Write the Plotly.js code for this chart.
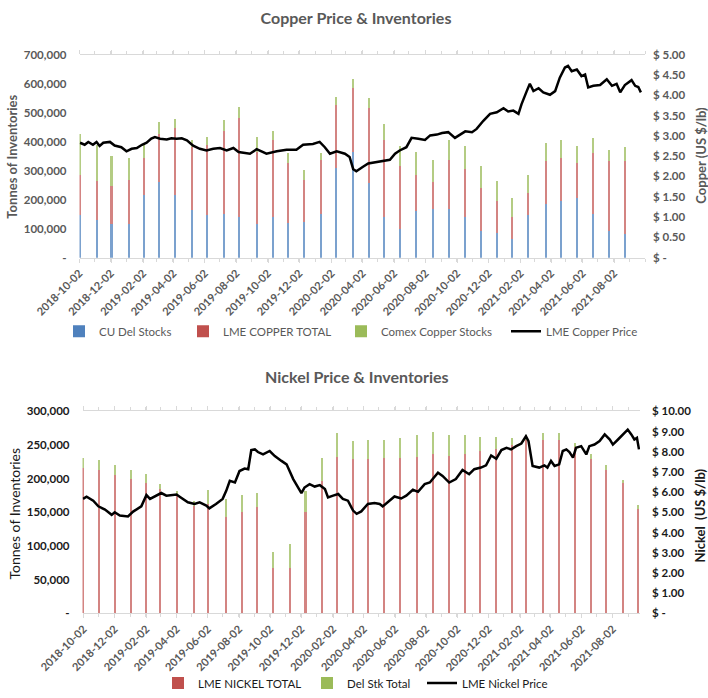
<!DOCTYPE html>
<html><head><meta charset="utf-8">
<script src="https://cdn.plot.ly/plotly-3.0.1.min.js"></script>
<style>html,body{margin:0;padding:0;background:#fff}#chart{width:708px;height:698px}</style>
</head><body><div id="chart"></div>
<script>
// ---------- Copper data ----------
const copperBarDates = ['2018-10-03','2018-11-04','2018-12-03','2019-01-06','2019-02-04','2019-03-05','2019-04-05','2019-05-08','2019-06-06','2019-07-08','2019-08-07','2019-09-10','2019-10-11','2019-11-09','2019-12-11','2020-01-13','2020-02-11','2020-03-15','2020-04-14','2020-05-13','2020-06-14','2020-07-15','2020-08-17','2020-09-17','2020-10-18','2020-11-18','2020-12-19','2021-01-17','2021-02-16','2021-03-23','2021-04-21','2021-05-23','2021-06-22','2021-07-23','2021-08-24'];
const cuDelStocks = [146000,129000,118000,118000,216000,262000,216000,164000,146000,150000,142000,116000,142000,120000,122000,151000,310000,364000,258000,142000,99000,162000,168000,168000,140000,91000,84000,65000,146000,186000,196000,205000,151000,91000,82000];
const lmeCopperTotal = [138000,135000,130000,149000,129000,165000,231000,219000,241000,288000,339000,248000,262000,207000,146000,185000,217000,220000,258000,262000,216000,123000,92000,168000,167000,150000,110000,74000,78000,146000,148000,123000,211000,241000,250000];
const comexCopperStocks = [143000,123000,102000,78000,42000,42000,31000,21000,28000,37000,38000,52000,33000,35000,34000,26000,27000,30000,33000,57000,70000,79000,75000,70000,77000,74000,70000,66000,62000,64000,60000,56000,50000,40000,48000];
const copperPriceDates = ['2018-10-03','2018-10-12','2018-10-19','2018-10-28','2018-11-04','2018-11-10','2018-11-17','2018-11-30','2018-12-09','2018-12-22','2019-01-01','2019-01-11','2019-01-21','2019-01-31','2019-02-09','2019-02-18','2019-02-25','2019-03-07','2019-03-20','2019-03-29','2019-04-08','2019-04-18','2019-04-28','2019-05-10','2019-05-23','2019-06-05','2019-06-18','2019-07-01','2019-07-14','2019-07-27','2019-08-06','2019-08-28','2019-09-10','2019-09-29','2019-10-19','2019-11-07','2019-11-26','2019-12-09','2019-12-28','2020-01-10','2020-01-20','2020-01-30','2020-02-12','2020-02-28','2020-03-08','2020-03-15','2020-03-21','2020-03-28','2020-04-03','2020-04-13','2020-04-29','2020-05-12','2020-05-25','2020-06-04','2020-06-13','2020-06-26','2020-07-06','2020-07-19','2020-08-01','2020-08-11','2020-08-24','2020-09-03','2020-09-15','2020-09-28','2020-10-08','2020-10-18','2020-10-31','2020-11-09','2020-11-22','2020-12-05','2020-12-18','2020-12-31','2021-01-09','2021-01-19','2021-01-29','2021-02-04','2021-02-14','2021-02-20','2021-02-27','2021-03-09','2021-03-18','2021-03-31','2021-04-10','2021-04-19','2021-04-29','2021-05-05','2021-05-12','2021-05-22','2021-05-31','2021-06-07','2021-06-13','2021-06-23','2021-07-06','2021-07-19','2021-07-29','2021-08-07','2021-08-14','2021-08-23','2021-09-05','2021-09-12','2021-09-18','2021-09-23'];
const copperPrice = [2.83,2.78,2.85,2.78,2.85,2.75,2.83,2.85,2.76,2.72,2.62,2.68,2.70,2.78,2.83,2.93,2.97,2.93,2.91,2.94,2.93,2.94,2.89,2.76,2.68,2.64,2.68,2.70,2.64,2.70,2.60,2.56,2.67,2.56,2.62,2.66,2.66,2.78,2.80,2.85,2.72,2.56,2.62,2.56,2.48,2.18,2.13,2.20,2.24,2.32,2.36,2.38,2.41,2.56,2.64,2.72,2.95,2.93,2.90,3.01,3.03,3.07,3.09,2.95,3.03,3.11,3.09,3.17,3.37,3.54,3.58,3.68,3.60,3.62,3.54,3.78,4.10,4.28,4.10,4.17,4.07,4.01,4.10,4.43,4.68,4.72,4.59,4.63,4.47,4.51,4.19,4.23,4.25,4.39,4.23,4.28,4.07,4.25,4.37,4.23,4.20,4.07];
const copperTonneTicks = [0,100000,200000,300000,400000,500000,600000,700000];
const copperTonneLabels = ['-','100,000','200,000','300,000','400,000','500,000','600,000','700,000'];
const copperPriceTicks = [0,0.5,1,1.5,2,2.5,3,3.5,4,4.5,5];
const copperPriceLabels = ['$ -','$ 0.50','$ 1.00','$ 1.50','$ 2.00','$ 2.50','$ 3.00','$ 3.50','$ 4.00','$ 4.50','$ 5.00'];

// ---------- Nickel data ----------
const nickelBarDates = ['2018-10-01','2018-11-02','2018-12-02','2019-01-02','2019-02-01','2019-03-01','2019-04-02','2019-05-06','2019-06-02','2019-07-08','2019-08-08','2019-09-07','2019-10-08','2019-11-09','2019-12-10','2020-01-11','2020-02-09','2020-03-12','2020-04-11','2020-05-11','2020-06-12','2020-07-15','2020-08-15','2020-09-15','2020-10-16','2020-11-15','2020-12-17','2021-01-17','2021-02-13','2021-03-19','2021-04-19','2021-05-20','2021-06-20','2021-07-19','2021-08-21','2021-09-21'];
const lmeNickelTotal = [216500,212700,205300,200300,194400,184700,177300,160000,162600,142900,151300,157600,66800,67800,150200,196900,232700,228900,228900,231300,231300,232700,237500,234300,237000,240600,244000,250500,258300,258300,258300,247500,229800,213100,193600,155300];
const delStkTotal = [14800,14700,15700,12400,12400,7300,4900,7500,21100,27100,24600,21200,24500,34900,32000,34400,35300,26900,28000,26000,29000,33000,31500,30400,28700,21200,17800,9300,7400,9700,9700,5900,6500,6900,4800,5800];
const nickelPriceDates = ['2018-10-01','2018-10-08','2018-10-21','2018-10-31','2018-11-13','2018-11-26','2018-12-02','2018-12-12','2018-12-28','2019-01-07','2019-01-23','2019-02-02','2019-02-09','2019-02-22','2019-03-03','2019-03-13','2019-04-02','2019-04-08','2019-04-24','2019-05-07','2019-05-17','2019-05-30','2019-06-05','2019-06-18','2019-07-01','2019-07-08','2019-07-15','2019-07-25','2019-08-03','2019-08-13','2019-08-20','2019-08-26','2019-09-02','2019-09-08','2019-09-18','2019-10-01','2019-10-11','2019-10-24','2019-11-03','2019-11-16','2019-11-25','2019-12-02','2019-12-08','2019-12-18','2019-12-28','2020-01-07','2020-01-17','2020-01-23','2020-02-02','2020-02-12','2020-02-21','2020-03-02','2020-03-12','2020-03-19','2020-03-28','2020-04-10','2020-04-23','2020-05-03','2020-05-09','2020-05-19','2020-06-01','2020-06-14','2020-06-24','2020-07-07','2020-07-17','2020-07-30','2020-08-09','2020-08-25','2020-09-03','2020-09-16','2020-09-29','2020-10-12','2020-10-25','2020-11-04','2020-11-17','2020-11-27','2020-12-07','2020-12-17','2020-12-27','2021-01-06','2021-01-15','2021-01-25','2021-02-04','2021-02-13','2021-02-18','2021-02-26','2021-03-11','2021-03-21','2021-03-27','2021-04-03','2021-04-10','2021-04-19','2021-04-26','2021-05-03','2021-05-09','2021-05-16','2021-05-22','2021-06-01','2021-06-11','2021-06-17','2021-06-27','2021-07-07','2021-07-17','2021-07-27','2021-08-02','2021-08-12','2021-08-21','2021-08-31','2021-09-07','2021-09-13','2021-09-18','2021-09-22'];
const nickelPrice = [5.67,5.78,5.58,5.30,5.14,4.88,5.01,4.85,4.80,5.04,5.30,5.86,5.67,5.83,5.96,5.83,5.89,5.78,5.50,5.42,5.50,5.34,5.20,5.42,5.67,6.07,6.56,6.48,7.05,7.17,7.14,8.09,8.12,7.99,7.87,8.04,7.79,7.55,7.38,6.65,6.23,5.96,6.23,6.40,6.28,6.35,6.16,5.74,5.83,5.91,5.67,5.58,5.09,4.93,5.05,5.42,5.47,5.42,5.30,5.53,5.79,5.69,5.83,6.12,6.02,6.40,6.48,6.97,6.81,6.48,6.65,7.10,6.89,7.14,7.22,7.33,7.82,7.66,8.09,8.20,8.12,8.28,8.41,8.77,8.53,7.30,7.22,7.33,7.22,7.55,7.30,7.38,8.04,8.12,7.99,7.71,8.20,8.28,7.87,8.28,8.36,8.53,8.86,8.61,8.36,8.61,8.86,9.10,8.86,8.61,8.69,8.12];
const nickelTonneTicks = [0,50000,100000,150000,200000,250000,300000];
const nickelTonneLabels = ['-','50,000','100,000','150,000','200,000','250,000','300,000'];
const nickelPriceTicks = [0,1,2,3,4,5,6,7,8,9,10];
const nickelPriceLabels = ['$ -','$ 1.00','$ 2.00','$ 3.00','$ 4.00','$ 5.00','$ 6.00','$ 7.00','$ 8.00','$ 9.00','$ 10.00'];

// ---------- styling ----------
const FONT = 'Lato, "Open Sans", sans-serif';
const GRAY = '#595959';
const DARK = '#1a1a1a';
const AXLINE = '#D9D9D9';
const BLUE = '#4F81BD', RED = '#C0504D', GREEN = '#9BBB59';
const DAY = 86400000;
const barW = 4 * DAY;
const W = 708, H = 698;
const px = v => v / W;
const py = v => 1 - v / H;

const traces = [
  {type:'bar', x:copperBarDates, y:cuDelStocks, name:'CU Del Stocks', width:barW,
   marker:{color:BLUE, opacity:0.75}, xaxis:'x', yaxis:'y', legend:'legend'},
  {type:'bar', x:copperBarDates, y:lmeCopperTotal, name:'LME COPPER TOTAL', width:barW,
   marker:{color:RED, opacity:0.7}, xaxis:'x', yaxis:'y', legend:'legend2'},
  {type:'bar', x:copperBarDates, y:comexCopperStocks, name:'Comex Copper Stocks', width:barW,
   marker:{color:GREEN, opacity:0.75}, xaxis:'x', yaxis:'y', legend:'legend3'},
  {type:'scatter', mode:'lines', x:copperPriceDates, y:copperPrice, name:'LME Copper Price',
   line:{color:'#000', width:2.5}, xaxis:'x', yaxis:'y2', legend:'legend4'},
  {type:'bar', x:nickelBarDates, y:lmeNickelTotal, name:'LME NICKEL TOTAL', width:barW,
   marker:{color:RED, opacity:0.7}, xaxis:'x2', yaxis:'y3', legend:'legend5'},
  {type:'bar', x:nickelBarDates, y:delStkTotal, name:'Del Stk Total', width:barW,
   marker:{color:GREEN, opacity:0.75}, xaxis:'x2', yaxis:'y3', legend:'legend6'},
  {type:'scatter', mode:'lines', x:nickelPriceDates, y:nickelPrice, name:'LME Nickel Price',
   line:{color:'#000', width:2.5}, xaxis:'x2', yaxis:'y4', legend:'legend7'}
];

function xAxis(domain, anchor, range){
  return {
    domain: domain, anchor: anchor, type:'date', range: range,
    tickformat:'%Y-%m-%d', dtick:'M2', tick0:'2018-10-02', tickangle:-45,
    tickfont:{family:FONT, size:11, color:GRAY, weight:'bold'},
    showline:true, linecolor:AXLINE, linewidth:1, mirror:'ticks',
    ticks:'outside', ticklen:4, tickcolor:AXLINE,
    minor:{dtick:'M1', ticks:'outside', ticklen:3, tickcolor:AXLINE, showgrid:false},
    showgrid:false, zeroline:false, fixedrange:true
  };
}
function yLeft(domain, anchor, range, vals, text, color){
  return {
    domain: domain, anchor: anchor, range: range, tickvals: vals, ticktext: text,
    tickfont:{family:FONT, size:11.5, color:color, weight:'bold'},
    showgrid:false, zeroline:false, showline:false, ticks:'', ticklabelstandoff:12
  };
}
function yRight(overlay, anchor, range, vals, text, color, standoff){
  return {
    overlaying: overlay, anchor: anchor, side:'right', range: range, tickvals: vals, ticktext: text,
    tickfont:{family:FONT, size:11.5, color:color, weight:'bold'},
    showgrid:false, zeroline:false, showline:false, ticks:'', ticklabelstandoff:standoff
  };
}
function legendAt(textX, yPix, color){
  return {orientation:'h', x:px(textX - 42), xanchor:'left', y:py(yPix), yanchor:'middle',
          font:{family:FONT, size:11.5, color:color}, bgcolor:'rgba(0,0,0,0)', itemwidth:30};
}

const layout = {
  width: W, height: H, margin:{l:0, r:0, t:0, b:0},
  paper_bgcolor:'#fff', plot_bgcolor:'rgba(0,0,0,0)',
  barmode:'stack', bargap:0, showlegend:true,
  title:{text:'Copper Price & Inventories', x:px(356), xanchor:'center', y:py(18), yanchor:'middle',
         font:{family:FONT, size:16, color:GRAY, weight:'bold'}},
  xaxis: xAxis([px(79.5), px(645)], 'y', ['2018-10-02','2021-10-01']),
  yaxis: yLeft([py(260), py(55)], 'x', [0,700000], copperTonneTicks, copperTonneLabels, GRAY),
  yaxis2: yRight('y', 'x', [0,5], copperPriceTicks, copperPriceLabels, GRAY, 7),
  xaxis2: xAxis([px(82.5), px(640)], 'y3', ['2018-09-30','2021-09-24']),
  yaxis3: yLeft([py(618.7), py(415)], 'x2', [0,300000], nickelTonneTicks, nickelTonneLabels, DARK),
  yaxis4: yRight('y3', 'x2', [0,10], nickelPriceTicks, nickelPriceLabels, DARK, 11),
  legend:  legendAt(101, 334, GRAY),
  legend2: legendAt(225, 334, GRAY),
  legend3: legendAt(383, 334, GRAY),
  legend4: legendAt(548, 334, GRAY),
  legend5: legendAt(200, 689, DARK),
  legend6: legendAt(349, 689, DARK),
  legend7: legendAt(464, 689, DARK),
  annotations:[
    {text:'Nickel Price & Inventories', xref:'paper', yref:'paper', x:px(357), y:py(380),
     xanchor:'center', yanchor:'middle', showarrow:false,
     font:{family:FONT, size:16, color:GRAY, weight:'bold'}},
    {text:'Tonnes of Inventories', xref:'paper', yref:'paper', x:px(12), y:py(158), textangle:-90,
     xanchor:'center', yanchor:'middle', showarrow:false,
     font:{family:FONT, size:13, color:GRAY, weight:'bold'}},
    {text:'Copper (US $/lb)', xref:'paper', yref:'paper', x:px(701), y:py(157), textangle:-90,
     xanchor:'center', yanchor:'middle', showarrow:false,
     font:{family:FONT, size:13, color:GRAY, weight:'bold'}},
    {text:'Tonnes of Inventories', xref:'paper', yref:'paper', x:px(15), y:py(518), textangle:-90,
     xanchor:'center', yanchor:'middle', showarrow:false,
     font:{family:FONT, size:14, color:DARK}},
    {text:'Nickel  (US $/lb)', xref:'paper', yref:'paper', x:px(700), y:py(520), textangle:-90,
     xanchor:'center', yanchor:'middle', showarrow:false,
     font:{family:FONT, size:13, color:DARK, weight:'bold'}}
  ]
};

Plotly.newPlot('chart', traces, layout, {staticPlot:true, displayModeBar:false});
</script>
</body></html>
